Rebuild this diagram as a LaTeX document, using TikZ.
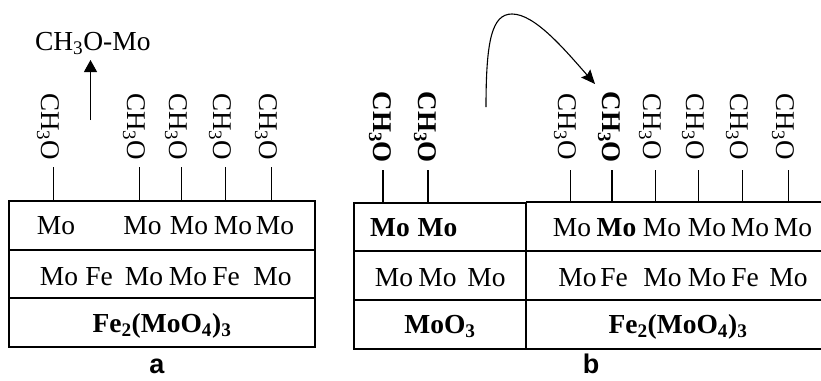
\documentclass[tikz,border=0pt]{standalone}
\usepackage{fontspec}
\setmainfont{Liberation Serif}
\newfontfamily\labfont{Liberation Sans}
\usetikzlibrary{arrows.meta}
\begin{document}
\begin{tikzpicture}[x=1pt,y=-1pt,
  every node/.style={inner sep=0pt,outer sep=0pt,font=\fontsize{27.5}{30}\selectfont},
  wd/.style={anchor=base},
  bwd/.style={anchor=base,font=\fontsize{27.5}{30}\selectfont\bfseries},
  vlab/.style={anchor=base east,rotate=-90,font=\fontsize{27}{30}\selectfont},
  bvlab/.style={anchor=base east,rotate=-90,font=\fontsize{27}{30}\selectfont\bfseries},
  boxline/.style={line width=1.4pt},
  bond/.style={line width=0.9pt},
  bbond/.style={line width=2pt},
  panlab/.style={anchor=base,font=\fontsize{27}{30}\selectfont\labfont\bfseries}]
\useasboundingbox (0,0) rectangle (821,380);

% ---------- panel a ----------
\draw[boxline] (9,201) rectangle (315,347);
\draw[boxline] (9,250) -- (315,250);
\draw[boxline] (9,298) -- (315,298);

\node[wd] (a11) at (56,234) {Mo};
\node[wd] (a12) at (142.5,234) {Mo};
\node[wd] (a13) at (189,234) {Mo};
\node[wd] (a14) at (233,234) {Mo};
\node[wd] (a15) at (275,234) {Mo};

\node[wd] (a21) at (59,285) {Mo};
\node[wd] (a22) at (99,285) {Fe};
\node[wd] (a23) at (144,285) {Mo};
\node[wd] (a24) at (188,285) {Mo};
\node[wd] (a25) at (226,285) {Fe};
\node[wd] (a26) at (272.5,285) {Mo};

\node[bwd] (a31) at (162,332) {Fe\textsubscript{2}(MoO\textsubscript{4})\textsubscript{3}};

\foreach \x/\n in {53/1,139/2,181/3,225/4,271/5}{
  \node[vlab] (ac\n) at (\x-12,160) {CH\textsubscript{3}O};
  \coordinate (at\n) at (\x,167);
  \coordinate (ab\n) at (\x,201);
  \draw[bond] (at\n) -- (ab\n);
}

\node[anchor=base west] (prod) at (35,50) {CH\textsubscript{3}O-Mo};
\coordinate (upt) at (90.5,120);
\coordinate (uph) at (90.5,60);
\draw[line width=1.1pt,-{Triangle[length=12pt,width=13pt]}] (upt) -- (uph);

\node[panlab] (la) at (157,373) {a};

% ---------- panel b ----------
\draw[boxline] (354,203) rectangle (526,349);
\draw[boxline] (354,251) -- (526,251);
\draw[boxline] (354,300) -- (526,300);
\draw[boxline] (526,202) -- (822,202);
\draw[boxline] (526,251) -- (822,251);
\draw[boxline] (526,300) -- (822,300);
\draw[boxline] (526,349) -- (822,349);
\draw[boxline] (526,202) -- (526,349);

\node[bwd] (b11) at (390,236) {Mo};
\node[bwd] (b12) at (437.5,236) {Mo};
\node[wd] (b13) at (572,236) {Mo};
\node[bwd] (b14) at (616.5,236) {Mo};
\node[wd] (b15) at (662,236) {Mo};
\node[wd] (b16) at (707,236) {Mo};
\node[wd] (b17) at (750,236) {Mo};
\node[wd] (b18) at (793,236) {Mo};

\node[wd] (b21) at (394,286) {Mo};
\node[wd] (b22) at (437.5,286) {Mo};
\node[wd] (b23) at (486.5,286) {Mo};
\node[wd] (b24) at (577.5,286) {Mo};
\node[wd] (b25) at (614,286) {Fe};
\node[wd] (b26) at (662.5,286) {Mo};
\node[wd] (b27) at (707,286) {Mo};
\node[wd] (b28) at (745,286) {Fe};
\node[wd] (b29) at (788.5,286) {Mo};

\node[bwd] (b31) at (440,333) {MoO\textsubscript{3}};
\node[bwd] (b32) at (678,333) {Fe\textsubscript{2}(MoO\textsubscript{4})\textsubscript{3}};

\foreach \x/\n in {383/1,428/2}{
  \node[bvlab] (bc\n) at (\x-10,163) {CH\textsubscript{3}O};
  \coordinate (bt\n) at (\x,170);
  \coordinate (bb\n) at (\x,203);
  \draw[bbond] (bt\n) -- (bb\n);
}
\foreach \x/\n in {570/3,655/5,698/6,742/7,788/8}{
  \node[vlab] (bc\n) at (\x-12,160) {CH\textsubscript{3}O};
  \coordinate (bt\n) at (\x,170);
  \coordinate (bb\n) at (\x,202);
  \draw[bond] (bt\n) -- (bb\n);
}
\node[bvlab] (bc4) at (612-10,163) {CH\textsubscript{3}O};
\coordinate (bt4) at (612,170);
\coordinate (bb4) at (612,202);
\draw[bbond] (bt4) -- (bb4);

\coordinate (cs) at (486,107);
\coordinate (cp) at (512,14);
\coordinate (ce) at (595,84);
\draw[line width=1.1pt,-{Stealth[length=14pt,width=12pt,inset=2pt]}]
  (cs) .. controls (486,40) and (492,14) .. (cp)
       .. controls (535,14) and (565,50) .. (ce);

\node[panlab] (lb) at (591,373) {b};
\end{tikzpicture}
\end{document}
